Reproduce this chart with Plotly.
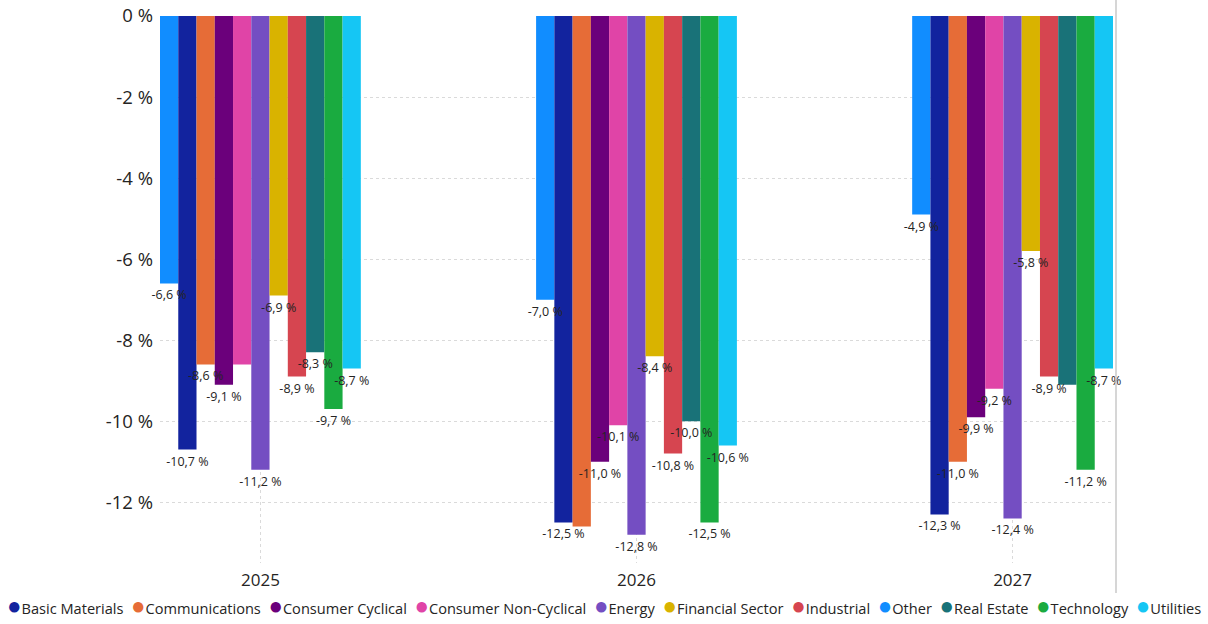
import plotly.graph_objects as go

years = ["2025", "2026", "2027"]

# series in bar order (Other first, as in the reference)
series_names = ["Other", "Basic Materials", "Communications", "Consumer Cyclical",
                "Consumer Non-Cyclical", "Energy", "Financial Sector", "Industrial",
                "Real Estate", "Technology", "Utilities"]

other = [-6.6, -7.0, -4.9]
basic_materials = [-10.7, -12.5, -12.3]
communications = [-8.6, -12.6, -11.0]
consumer_cyclical = [-9.1, -11.0, -9.9]
consumer_non_cyclical = [-8.6, -10.1, -9.2]
energy = [-11.2, -12.8, -12.4]
financial_sector = [-6.9, -8.4, -5.8]
industrial = [-8.9, -10.8, -8.9]
real_estate = [-8.3, -10.0, -9.1]
technology = [-9.7, -12.5, -11.2]
utilities = [-8.7, -10.6, -8.7]

series_values = [other, basic_materials, communications, consumer_cyclical,
                 consumer_non_cyclical, energy, financial_sector, industrial,
                 real_estate, technology, utilities]

colors = ["#118DFF", "#12239E", "#E66C37", "#6B007B", "#E044A7", "#744EC2",
          "#D9B300", "#D64550", "#197278", "#1AAB40", "#15C6F4"]

# legend order (alphabetical)
legend_order = ["Basic Materials", "Communications", "Consumer Cyclical",
                "Consumer Non-Cyclical", "Energy", "Financial Sector", "Industrial",
                "Other", "Real Estate", "Technology", "Utilities"]

# data labels that the reference does not show (overlap hiding)
hidden_labels = {("Consumer Non-Cyclical", "2025"), ("Communications", "2026"),
                 ("Real Estate", "2027")}

y_ticks = [0, -2, -4, -6, -8, -10, -12]

FONT = "Open Sans"
TXT = "#252423"

W, H = 1208, 624
ML, MR, MT, MB = 160, 95, 16, 61
PW = W - ML - MR
PH = H - MT - MB


def fmt(v):
    return f"{v:.1f}".replace(".", ",") + " %"


fig = go.Figure()
# coloured bars
for name, vals, col in zip(series_names, series_values, colors):
    fig.add_trace(go.Bar(
        x=years, y=vals, name=name, offsetgroup=name,
        marker=dict(color=col, line=dict(width=0)),
        showlegend=False, hoverinfo="x+y+name",
    ))
# transparent twins carrying the data labels, drawn on top of all bars
for name, vals in zip(series_names, series_values):
    texts = ["" if (name, yr) in hidden_labels else fmt(v) for yr, v in zip(years, vals)]
    fig.add_trace(go.Bar(
        x=years, y=vals, name=name, offsetgroup=name,
        marker=dict(color="rgba(0,0,0,0)", line=dict(width=0)),
        text=texts, textposition="outside", constraintext="none",
        textfont=dict(family=FONT, size=12.5, color=TXT), cliponaxis=False,
        showlegend=False, hoverinfo="skip",
    ))

# legend as a single flowing line of text
parts = []
for name in legend_order:
    col = colors[series_names.index(name)]
    parts.append(f"<span style='color:{col};font-size:24px'>●</span>{name}")
legend_text = "&nbsp;&nbsp;".join(parts)
fig.add_annotation(
    text=legend_text, xref="paper", yref="paper",
    x=(5 - ML) / PW, y=(H - MB - 604) / PH, xanchor="left", yanchor="middle",
    showarrow=False, font=dict(family=FONT, size=14.6, color=TXT), align="left",
)

# thin divider line on the right
fig.add_shape(type="line", xref="paper", yref="paper",
              x0=(1116 - ML) / PW, x1=(1116 - ML) / PW,
              y0=(H - MB - 593) / PH, y1=(H - MB - 0) / PH,
              line=dict(color="#C8C8C8", width=1.5))

fig.update_layout(
    width=W, height=H,
    margin=dict(l=ML, r=MR, t=MT, b=MB),
    plot_bgcolor="white", paper_bgcolor="white",
    barmode="group", bargap=0.466, bargroupgap=0,
    showlegend=False,
    xaxis=dict(
        type="category", range=[-0.267, 2.267], automargin=False,
        showgrid=True, gridcolor="#DADADA", griddash="dot", gridwidth=1,
        zeroline=False, showline=False, ticks="", ticklabelstandoff=5,
        tickfont=dict(family=FONT, size=17, color=TXT),
    ),
    yaxis=dict(
        range=[-13.5, 0], tickvals=y_ticks, automargin=False,
        ticktext=[f"{t} %" for t in y_ticks],
        showgrid=True, gridcolor="#DADADA", griddash="dot", gridwidth=1,
        zeroline=False, showline=False, ticks="", ticklabelstandoff=6,
        tickfont=dict(family=FONT, size=18.5, color=TXT),
    ),
    font=dict(family=FONT, color=TXT),
)

fig.write_html("out.html")
